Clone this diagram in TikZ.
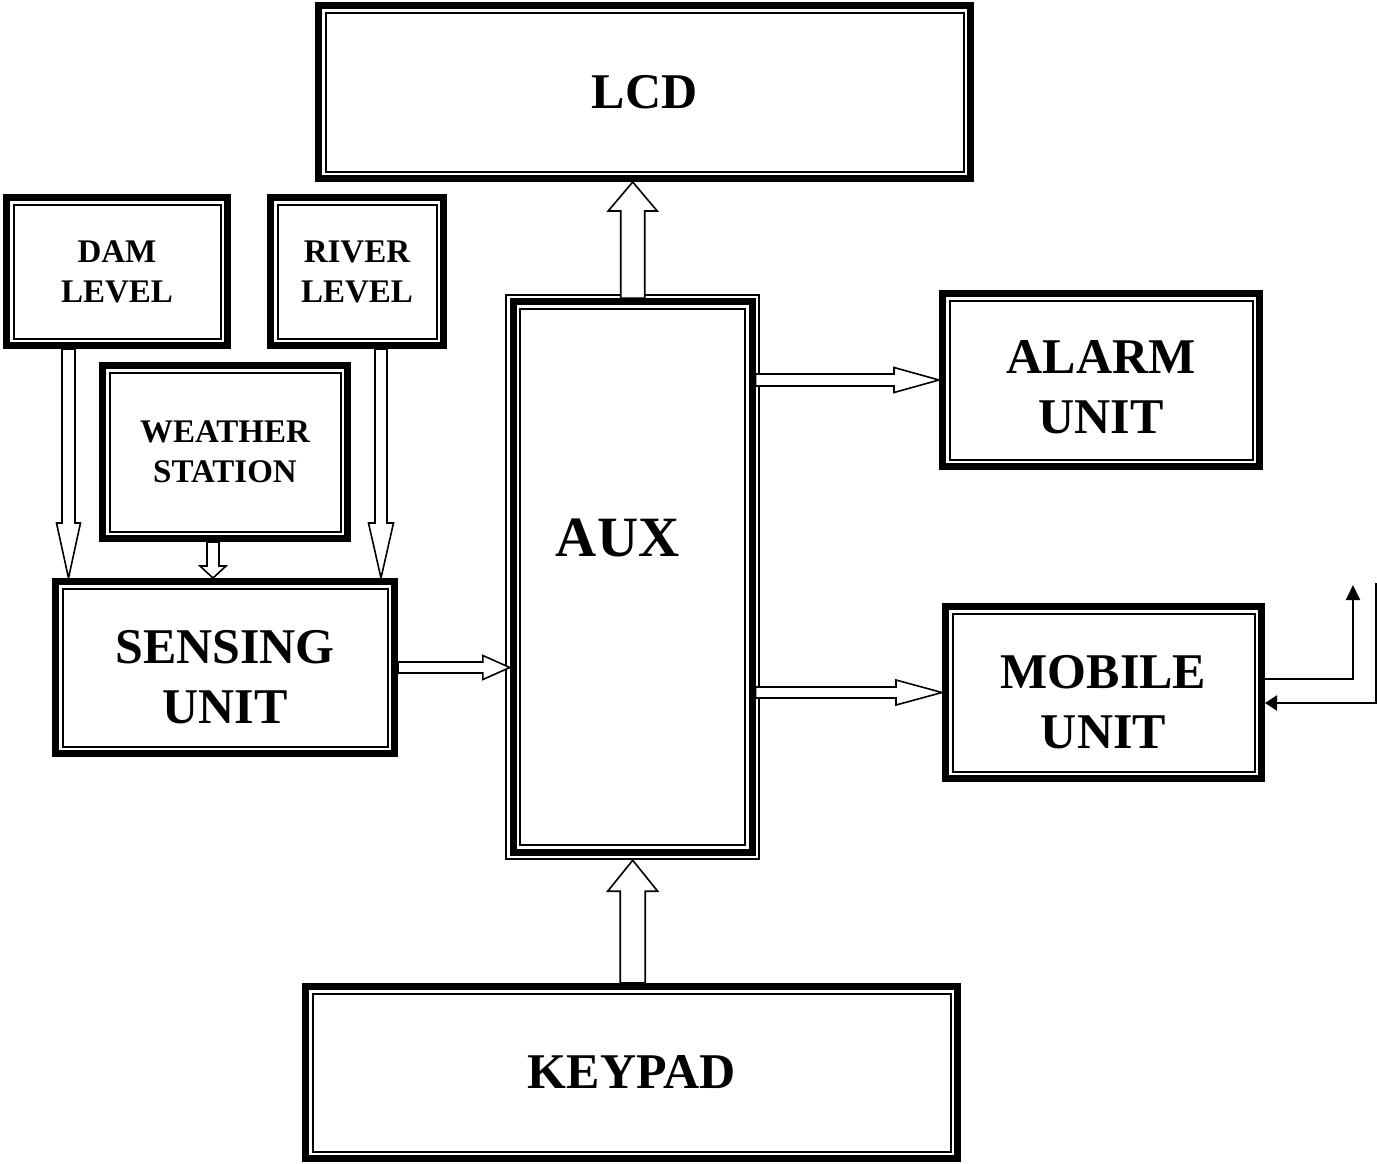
\documentclass[tikz,border=0pt]{standalone}
\usepackage{fontspec}
\setmainfont{Liberation Serif}
\usetikzlibrary{arrows.meta,calc}

% hollow block arrow: from, to, shaft half width, head half width, head length
\newcommand{\hollowarrow}[5]{%
  \coordinate (hb) at ($(#2)!#5!(#1)$);
  \draw[hollow] ($(#1)!#3!90:(#2)$) -- ($(hb)!#3!90:(#2)$) -- ($(hb)!#4!90:(#2)$) -- (#2)
    -- ($(hb)!#4!-90:(#2)$) -- ($(hb)!#3!-90:(#2)$) -- ($(#1)!#3!-90:(#2)$) -- cycle;}

\begin{document}
\begin{tikzpicture}[x=1pt, y=-1pt,
  box/.style={draw, line width=7pt, inner sep=0pt, align=center},
  bigtxt/.style={font=\fontsize{50}{60}\selectfont\bfseries},
  auxtxt/.style={font=\fontsize{57}{68}\selectfont\bfseries},
  smalltxt/.style={font=\fontsize{33}{40}\selectfont\bfseries},
  thinline/.style={line width=2pt},
  hollow/.style={draw, fill=white, line width=1.6pt, line join=miter},
  wire/.style={line width=2pt}]
\useasboundingbox (0,0) rectangle (1377,1163);

% blocks
\node[box, bigtxt, minimum width=652pt, minimum height=173pt] (lcd) at (644.5,92) {LCD};
\node[box, smalltxt, minimum width=221pt, minimum height=148pt] (dam) at (117,271.5) {DAM\\LEVEL};
\node[box, smalltxt, minimum width=173pt, minimum height=148pt] (river) at (357,271.5) {RIVER\\LEVEL};
\node[box, smalltxt, minimum width=245pt, minimum height=173pt] (weather) at (225,452) {WEATHER\\STATION};
\node[box, minimum width=339pt, minimum height=172pt,
  label={[bigtxt, align=center, yshift=-10pt]center:{SENSING\\UNIT}}] (sensing) at (225,667.5) {};
\node[box, minimum width=238.7pt, minimum height=550.5pt,
  label={[auxtxt, xshift=-15pt, yshift=39pt]center:AUX}] (aux) at (632.7,577) {};
\node[box, minimum width=317pt, minimum height=173pt,
  label={[bigtxt, align=center, yshift=-7.5pt]center:{ALARM\\UNIT}}] (alarm) at (1101,380) {};
\node[box, minimum width=316pt, minimum height=172pt,
  label={[bigtxt, align=center, yshift=-9.5pt]center:{MOBILE\\UNIT}}] (mobile) at (1103.5,692.5) {};
\node[box, bigtxt, minimum width=652pt, minimum height=172pt] (keypad) at (631.5,1072.5) {KEYPAD};

% inner frames
\foreach \n in {lcd,dam,river,weather,sensing,aux,alarm,mobile,keypad}
  \draw[thinline] ($(\n.north west)+(10.5,10.5)$) rectangle ($(\n.south east)+(-10.5,-10.5)$);
\draw[thinline] ($(aux.north west)+(-3.5,-3.5)$) rectangle ($(aux.south east)+(3.5,3.5)$);

% arrow ends
\coordinate (lcdin) at (aux.north |- lcd.south);
\coordinate (kpout) at (aux.south |- keypad.north);
\coordinate (kpin) at ($(aux.south)+(0,4.5)$);
\coordinate (damout) at ($(dam.south west)+(65.5,0)$);
\coordinate (damin) at (damout |- sensing.north);
\coordinate (rivout) at ($(river.south west)+(114,0)$);
\coordinate (rivin) at (rivout |- sensing.north);
\coordinate (wsout) at ($(weather.south west)+(114,0)$);
\coordinate (wsin) at (wsout |- sensing.north);
\coordinate (sensin) at (aux.west |- sensing.east);
\coordinate (alarmout) at (aux.east |- alarm.west);
\coordinate (mobout) at (aux.east |- mobile.west);

\hollowarrow{aux.north}{lcdin}{12pt}{24.5pt}{29pt}
\hollowarrow{kpout}{kpin}{12.5pt}{25pt}{31pt}
\hollowarrow{damout}{damin}{6.5pt}{12pt}{55pt}
\hollowarrow{rivout}{rivin}{6pt}{12.5pt}{55pt}
\hollowarrow{wsout}{wsin}{6pt}{13pt}{12pt}
\hollowarrow{sensing.east}{sensin}{5.5pt}{12pt}{27pt}
\hollowarrow{alarmout}{alarm.west}{6pt}{12.5pt}{45pt}
\hollowarrow{mobout}{mobile.west}{5.5pt}{12.5pt}{46pt}

% antenna lines
\coordinate (ant) at (1353,585);
\coordinate (feed) at (1376,583);
\draw[wire, -{Triangle[length=15pt,width=14pt]}] ($(mobile.east)+(0,-13.5)$) -| (ant);
\draw[wire, -{Triangle[length=12pt,width=15pt]}] (feed) |- ($(mobile.east)+(0,10.5)$);
\end{tikzpicture}
\end{document}
